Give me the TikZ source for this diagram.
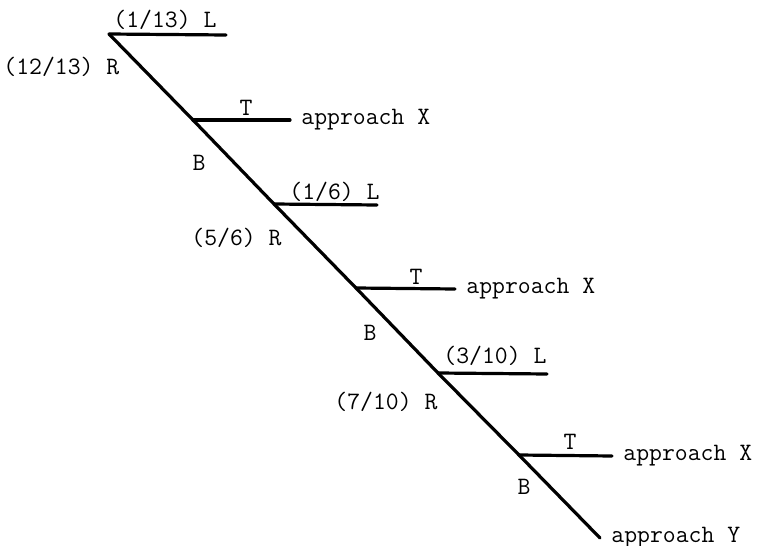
\documentclass[tikz,border=0pt]{standalone}
\usepackage{tikz}
\usetikzlibrary{positioning}
\tikzset{
	branch/.style ={line width=1.6pt, line cap=round},
	prob/.style   ={inner sep=0pt, anchor=base west},
	side/.style   ={inner sep=0pt, anchor=center},
	outcome/.style={inner sep=0pt, anchor=west},
}

\begin{document}
\begin{tikzpicture}[x=0.5pt, y=-0.5pt, font=\ttfamily\fontsize{12.5}{14}\selectfont, node distance=5.5pt]
	\useasboundingbox (0,0) rectangle (757,546);
	% junctions on the main line
	\coordinate (j0) at (109,34);
	\coordinate (j1) at (193,120);
	\coordinate (j2) at (274,204);
	\coordinate (j3) at (356,288);
	\coordinate (j4) at (438,373);
	\coordinate (j5) at (519,455);
	\coordinate (yend) at (600,538);
	% ends of the side branches
	\coordinate (l1) at (226,35);
	\coordinate (x1) at (290,120);
	\coordinate (l2) at (377,205);
	\coordinate (x2) at (455,289);
	\coordinate (l3) at (547,374);
	\coordinate (x3) at (612,456);
	\draw[branch] (j0) -- (j1) -- (j2) -- (j3) -- (j4) -- (j5) -- (yend);
	\draw[branch] (j0) -- (l1); \draw[branch] (j1) -- (x1); \draw[branch] (j2) -- (l2);
	\draw[branch] (j3) -- (x2); \draw[branch] (j4) -- (l3); \draw[branch] (j5) -- (x3);
	% probabilities
	\node[prob] (p1l) at (113,27) {(1/13) L};
	\node[prob] (p1r) at (3,75) {(12/13) R};
	\node[prob] (p2l) at (289,199) {(1/6) L};
	\node[prob] (p2r) at (191,245) {(5/6) R};
	\node[prob] (p3l) at (443,364) {(3/10) L};
	\node[prob] (p3r) at (334,409) {(7/10) R};
	% T and B
	\node[side] (t1) at (246,108) {T};
	\node[side] (b1) at (199,163) {B};
	\node[side] (t2) at (416,277) {T};
	\node[side] (b2) at (370,333) {B};
	\node[side] (t3) at (570,442) {T};
	\node[side] (b3) at (524,487) {B};
	% outcomes
	\node[outcome, right=of x1] (ax1) {approach X};
	\node[outcome, right=of x2] (ax2) {approach X};
	\node[outcome, right=of x3] (ax3) {approach X};
	\node[outcome, right=of yend] (ay) {approach Y};
\end{tikzpicture}
\end{document}
